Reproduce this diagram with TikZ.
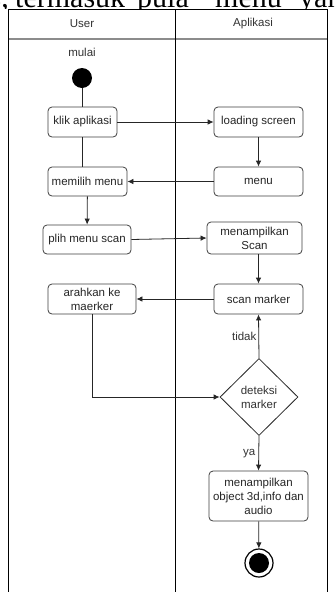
\documentclass[tikz,border=0pt]{standalone}
\usepackage{fontspec}
\setmainfont{Liberation Sans}
\newfontfamily\serf{Liberation Serif}
\usetikzlibrary{arrows.meta,shapes.geometric}
\begin{document}
\begin{tikzpicture}[x=1pt,y=-1pt,
  act/.style={draw=black!75, line width=0.8pt, rounded corners=4pt, fill=white, align=center, inner sep=1pt, font=\fontsize{11.5}{14}\selectfont, text=black!85},
  arr/.style={draw=black!85, line width=0.8pt, -{Latex[length=6pt,width=5.5pt]}},
  ln/.style={draw=black!85, line width=0.8pt},
  lbl/.style={font=\fontsize{11.5}{14}\selectfont, text=black!80},
  topw/.style={anchor=base west, inner sep=0pt, font=\serf\fontsize{30}{30}\selectfont},
]
\useasboundingbox (0,0) rectangle (335,592);
\fill[white] (0,0) rectangle (335,592);
\begin{scope}
\clip (0,0) rectangle (335,8.5);
\node[anchor=base east, inner sep=0pt, font=\serf\fontsize{30}{30}\selectfont] (w1) at (9,7.5) {s,};
\node[topw] (w2) at (15,7.5) {termasuk};
\node[topw] (w3) at (137,7.5) {pula};
\node[topw] (w4) at (215,7.5) {menu};
\node[topw] (w5) at (299,7.5) {yang};
\end{scope}
% frame
\fill[white] (8,9) rectangle (327.5,592);
\draw[gray!90, line width=1.5pt] (8,39) -- (327.5,39);
\draw[line width=0.9pt] (8,600) -- (8,9) -- (327.5,9) -- (327.5,600);
\draw[line width=0.9pt] (175.5,9) -- (175.5,600);
% headers
\node[lbl] (hu) at (82,24) {User};
\node[lbl] (ha) at (253,24) {Aplikasi};
% nodes
\node[lbl] (mulai) at (82,52) {mulai};
\node[circle, fill=black, minimum size=20pt, inner sep=0pt] (start) at (82,78) {};
\node[act, minimum width=69pt, minimum height=30pt] (klik) at (82.5,122) {klik aplikasi};
\node[act, minimum width=89pt, minimum height=30pt] (load) at (258.5,122) {loading screen};
\node[act, minimum width=89pt, minimum height=29pt] (menu) at (258.5,181.5) {menu};
\node[act, minimum width=79pt, minimum height=29pt] (pilih) at (87.5,181.5) {memilih menu};
\node[act, minimum width=88pt, minimum height=29pt] (scanm) at (87,239.5) {plih menu scan};
\node[act, minimum width=95pt, minimum height=32pt] (tampil) at (254.5,238) {menampilkan\\Scan};
\node[act, minimum width=89pt, minimum height=30pt] (scan) at (258.5,299) {scan marker};
\node[act, minimum width=88pt, minimum height=30pt] (arah) at (92,299) {arahkan ke\\maerker};
\node[diamond, draw=black!85, line width=0.8pt, fill=white, minimum width=78pt, minimum height=77pt, inner sep=0pt, align=center, font=\fontsize{11.5}{14}\selectfont, text=black!80] (dec) at (259,397) {deteksi\\marker};
\node[act, minimum width=99pt, minimum height=50pt] (obj) at (258.5,496) {menampilkan\\object 3d,info dan\\audio};
\node[circle, draw=black, line width=1.2pt, minimum size=28pt, inner sep=0pt, fill=white] (end) at (259,563) {};
\node[circle, fill=black, minimum size=20pt, inner sep=0pt] (endin) at (end) {};
% connectors
\draw[ln] (start.south) -- (start.south |- klik.north);
\draw[ln] (klik.south -| start.south) -- (pilih.north -| start.south);
\draw[arr] (klik) -- (load);
\draw[arr] (load) -- (menu);
\draw[arr] (menu) -- (pilih);
\draw[arr] (pilih) -- (scanm);
\draw[arr] (scanm.east) -- (tampil.west);
\draw[arr] (tampil.south -| scan.north) -- (scan.north);
\draw[arr] (scan) -- (arah);
\draw[arr] (arah.south) |- (dec.west);
\draw[arr] (dec.north) -- node[lbl, left, inner sep=2pt] (ltidak) {tidak} (scan.south);
\draw[arr] (dec.south) -- node[lbl, left, inner sep=3pt] (lya) {ya} (obj.north);
\draw[arr] (obj) -- (end);
\end{tikzpicture}
\end{document}
